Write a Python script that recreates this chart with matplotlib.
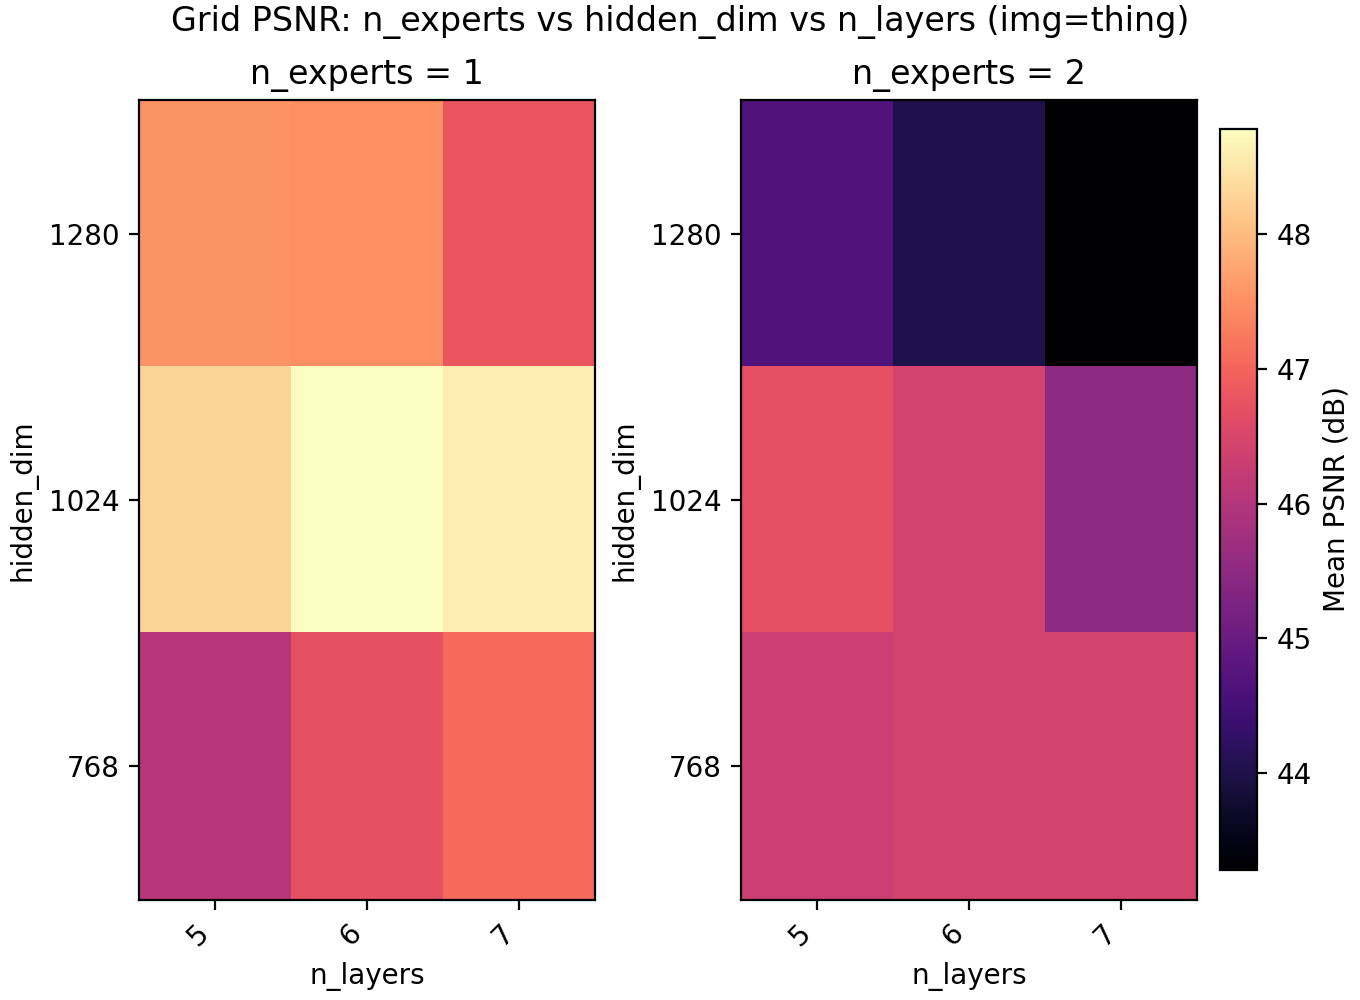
import matplotlib
matplotlib.use("Agg")
import matplotlib.pyplot as plt
import numpy as np

n_layers = [5, 6, 7]
hidden_dims = [1280, 1024, 768]  # top to bottom
n_experts = [1, 2]

# mean PSNR (dB), rows = hidden_dim (1280, 1024, 768), cols = n_layers (5, 6, 7)
psnr_e1 = [
    [47.55, 47.48, 46.80],
    [48.29, 48.78, 48.59],
    [46.03, 46.71, 47.08],
]
psnr_e2 = [
    [44.66, 44.02, 43.28],
    [46.68, 46.44, 45.48],
    [46.33, 46.44, 46.44],
]
grids = [psnr_e1, psnr_e2]

vmin = min(np.min(g) for g in grids)
vmax = max(np.max(g) for g in grids)

fig = plt.figure(figsize=(6.8, 5), dpi=200)
axes = [fig.add_axes([0.1022, 0.1005, 0.3353, 0.799]),
        fig.add_axes([0.5449, 0.1005, 0.3353, 0.799])]
cax = fig.add_axes([0.897, 0.13, 0.0272, 0.741])

for ax, ne, grid in zip(axes, n_experts, grids):
    im = ax.imshow(np.array(grid), cmap="magma", vmin=vmin, vmax=vmax, aspect="auto")
    ax.set_title(f"n_experts = {ne}")
    ax.set_xticks(range(len(n_layers)))
    ax.set_xticklabels([str(v) for v in n_layers], rotation=45, ha="right")
    ax.set_yticks(range(len(hidden_dims)))
    ax.set_yticklabels([str(v) for v in hidden_dims])
    ax.set_xlabel("n_layers")
    ax.set_ylabel("hidden_dim")

cb = fig.colorbar(im, cax=cax)
cb.set_label("Mean PSNR (dB)")

fig.suptitle("Grid PSNR: n_experts vs hidden_dim vs n_layers (img=thing)", y=0.995)
fig.savefig("out.png", dpi=200)
